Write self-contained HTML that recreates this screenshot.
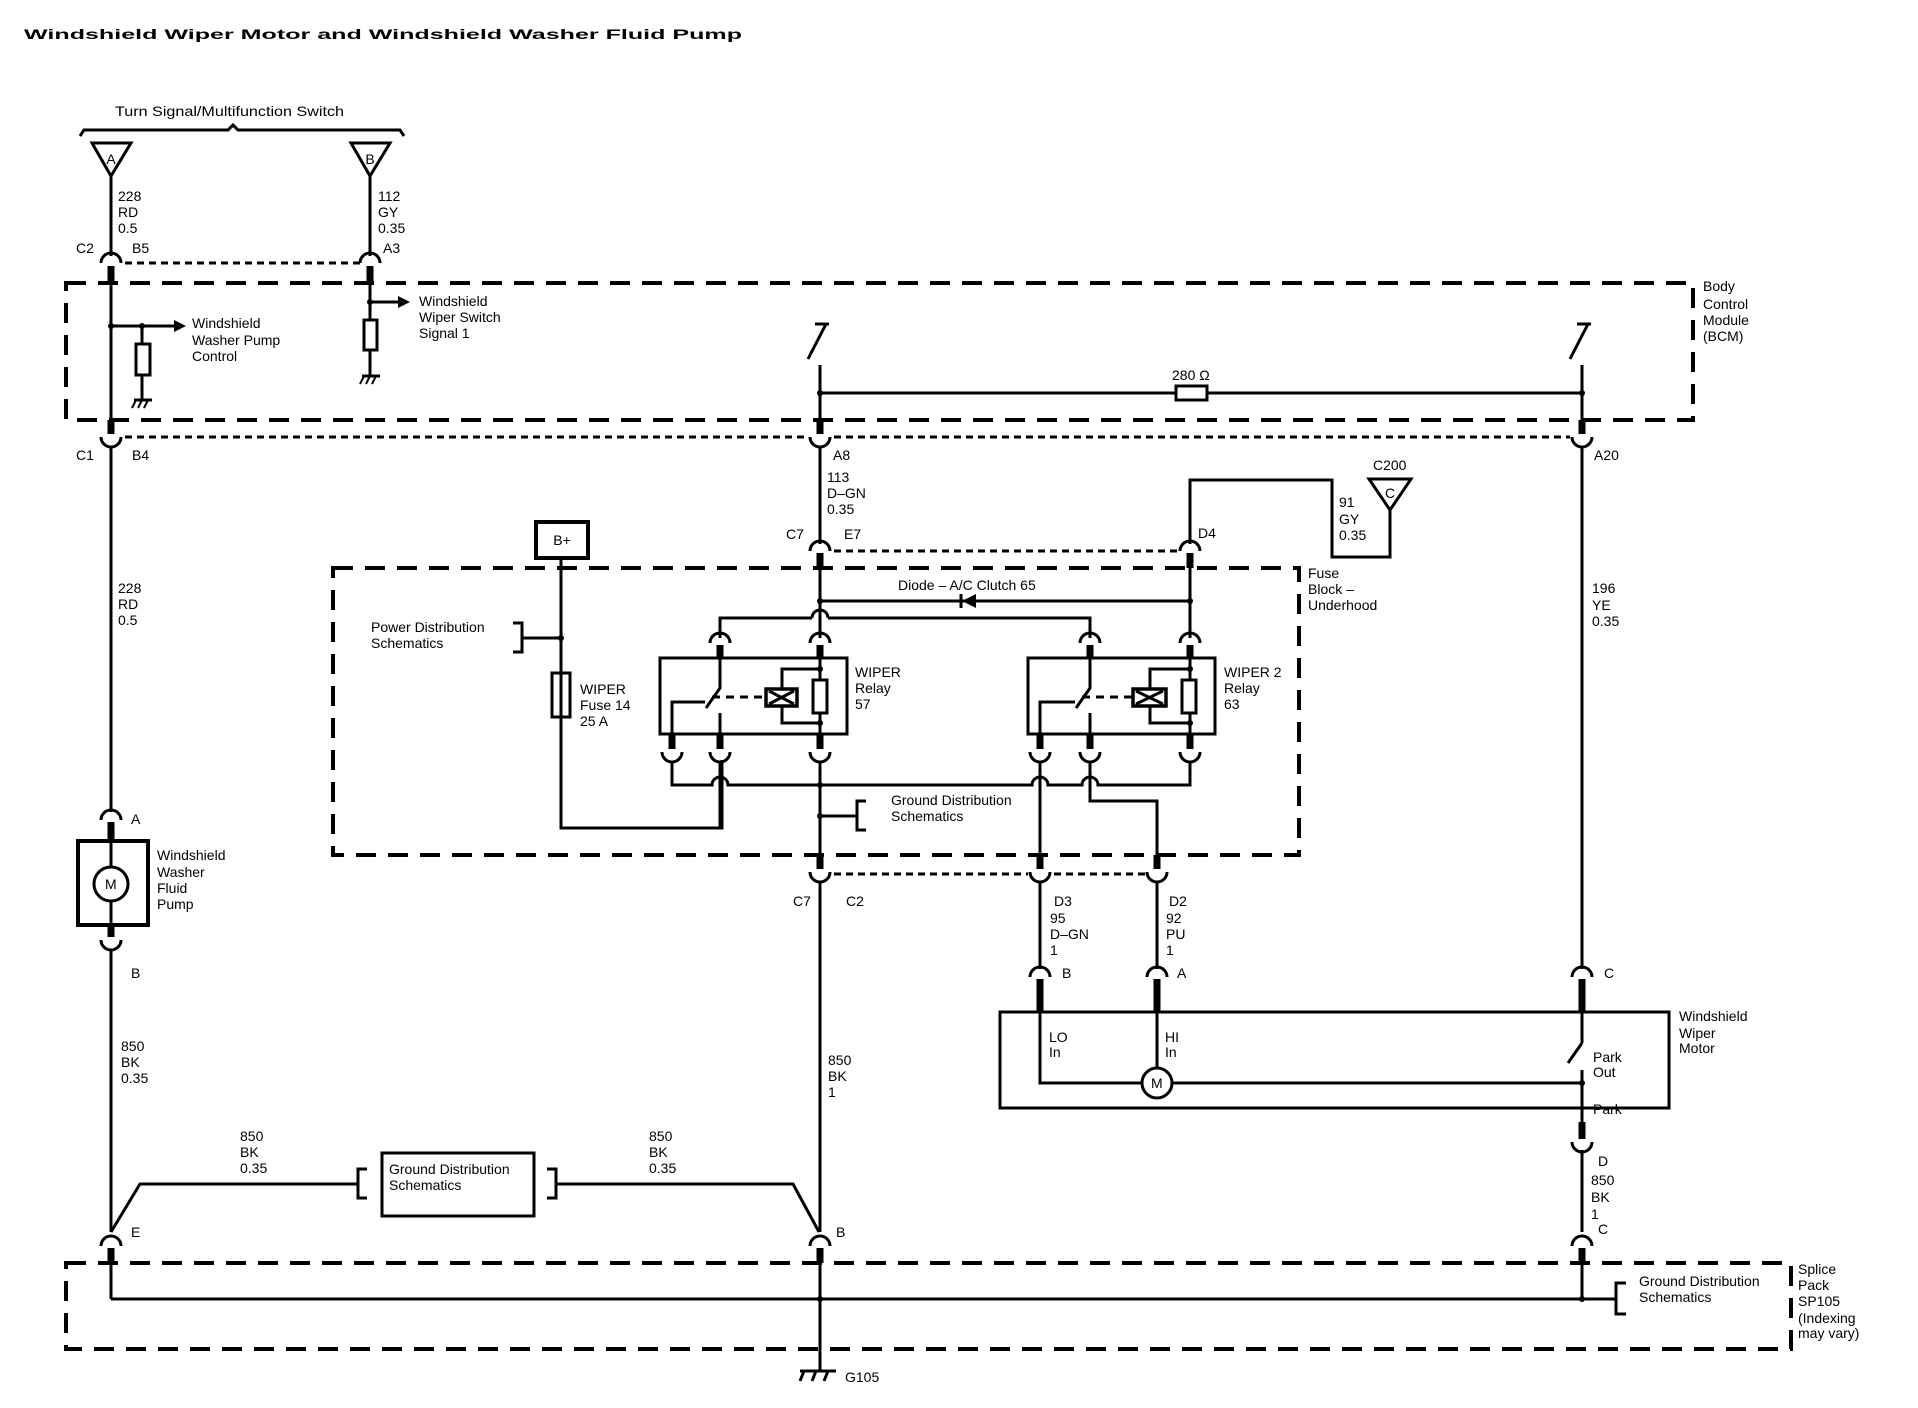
<!DOCTYPE html>
<html><head><meta charset="utf-8"><style>
html,body{margin:0;padding:0;background:#fff}
svg{display:block}
text{font-family:"Liberation Sans",Arial,sans-serif;font-size:14px;fill:#000}
</style></head><body>
<svg width="1918" height="1408" viewBox="0 0 1918 1408" xmlns="http://www.w3.org/2000/svg">
<g fill="none" stroke="#000" stroke-width="3">
<rect x="66" y="283" width="1627" height="137" stroke-width="4" stroke-dasharray="20 12"/>
<rect x="333" y="568" width="966" height="287" stroke-width="4" stroke-dasharray="20 12"/>
<rect x="66" y="1263" width="1725" height="86" stroke-width="4" stroke-dasharray="20 12"/>

<g stroke-dasharray="7 5">
<line x1="125" y1="263" x2="360" y2="263"/>
<line x1="125" y1="437" x2="808" y2="437"/>
<line x1="834" y1="437" x2="1570" y2="437"/>
<line x1="834" y1="551" x2="1178" y2="551"/>
<line x1="834" y1="874" x2="1028" y2="874"/>
<line x1="1054" y1="874" x2="1145" y2="874"/>
</g>

<path d="M80 136 L84 130 H228 L233 125 L238 130 H400 L404 136"/>
<polygon points="92,143 131,143 111,176"/>
<polygon points="351,143 390,143 370,176"/>
<polygon points="1369,479 1411,479 1390,510"/>

<line x1="111" y1="176" x2="111" y2="256"/>
<line x1="370" y1="176" x2="370" y2="256"/>
<line x1="111" y1="280" x2="111" y2="420"/>
<line x1="370" y1="280" x2="370" y2="320"/>
<line x1="111" y1="326" x2="176" y2="326"/>
<line x1="142" y1="326" x2="142" y2="344"/>
<rect x="136" y="344" width="14" height="31" fill="#fff"/>
<line x1="142" y1="375" x2="142" y2="400"/>
<line x1="134" y1="400" x2="152" y2="400"/>
<line x1="370" y1="302" x2="400" y2="302"/>
<rect x="364" y="320" width="13" height="30" fill="#fff"/>
<line x1="370" y1="350" x2="370" y2="376"/>
<line x1="362" y1="376" x2="380" y2="376"/>

<line x1="815" y1="324" x2="829" y2="324"/>
<line x1="826" y1="324" x2="808" y2="359"/>
<line x1="820" y1="365" x2="820" y2="420"/>
<line x1="1577" y1="324" x2="1591" y2="324"/>
<line x1="1588" y1="324" x2="1570" y2="359"/>
<line x1="1582" y1="365" x2="1582" y2="420"/>
<line x1="820" y1="393" x2="1582" y2="393"/>
<rect x="1176" y="386" width="31" height="14" fill="#fff"/>

<line x1="111" y1="447" x2="111" y2="812"/>
<line x1="820" y1="447" x2="820" y2="544"/>
<line x1="820" y1="568" x2="820" y2="611"/>
<path d="M812 618 A8 8 0 0 1 828 618"/>
<line x1="820" y1="611" x2="820" y2="638"/>
<path d="M1190 544 V480 H1332 V557 H1390 V510"/>
<line x1="1190" y1="568" x2="1190" y2="638"/>
<line x1="820" y1="601" x2="1190" y2="601"/>
<line x1="961" y1="594" x2="961" y2="608"/>
<path d="M720 638 V618 H812 M828 618 H1090 V638"/>
<line x1="1582" y1="447" x2="1582" y2="969"/>

<rect x="536" y="522" width="52" height="36" stroke-width="4"/>
<line x1="561" y1="558" x2="561" y2="673"/>
<rect x="552" y="673" width="18" height="44" fill="#fff"/>
<line x1="561" y1="673" x2="561" y2="717"/>
<path d="M561 717 V828 H722 V760"/>
<path d="M513 623 H522 V652 H513 M522 638 H561"/>

<rect x="660" y="658" width="187" height="76"/>
<path d="M720 658 V688 L706 708"/>
<path d="M672 734 V702 H705"/>
<line x1="720" y1="713" x2="720" y2="734"/>
<line x1="712" y1="697" x2="766" y2="697" stroke-dasharray="8 6"/>
<rect x="766" y="689" width="31" height="17" stroke-width="3.5"/>
<path d="M769 691 L794 704 M769 704 L794 691"/>
<path d="M782 689 V669 H820 M782 706 V723 H820"/>
<rect x="813" y="680" width="14" height="33" fill="#fff"/>
<line x1="820" y1="658" x2="820" y2="680"/>
<line x1="820" y1="713" x2="820" y2="734"/>
<rect x="1028" y="658" width="187" height="76"/>
<path d="M1090 658 V688 L1076 708"/>
<path d="M1040 734 V702 H1075"/>
<line x1="1090" y1="713" x2="1090" y2="734"/>
<line x1="1082" y1="697" x2="1133" y2="697" stroke-dasharray="8 6"/>
<rect x="1133" y="689" width="33" height="17" stroke-width="3.5"/>
<path d="M1136 691 L1163 704 M1136 704 L1163 691"/>
<path d="M1150 689 V669 H1190 M1150 706 V723 H1190"/>
<rect x="1182" y="680" width="14" height="33" fill="#fff"/>
<line x1="1190" y1="658" x2="1190" y2="680"/>
<line x1="1190" y1="713" x2="1190" y2="734"/>

<path d="M672 762 V785 H712 A8 8 0 0 1 728 785 H1032 A8 8 0 0 1 1048 785 H1082 A8 8 0 0 1 1098 785 H1190 V762"/>
<line x1="720" y1="762" x2="720" y2="828"/>
<line x1="820" y1="762" x2="820" y2="857"/>
<path d="M866 801 H857 V830 H866 M857 816 H820"/>
<line x1="1040" y1="762" x2="1040" y2="857"/>
<path d="M1090 762 V801 H1157 V857"/>

<line x1="820" y1="882" x2="820" y2="1232"/>
<line x1="1040" y1="882" x2="1040" y2="969"/>
<line x1="1157" y1="882" x2="1157" y2="969"/>

<rect x="1000" y="1012" width="669" height="96"/>
<path d="M1040 1011 V1083 H1142"/>
<line x1="1157" y1="1011" x2="1157" y2="1068"/>
<circle cx="1157" cy="1083" r="15"/>
<line x1="1172" y1="1083" x2="1582" y2="1083"/>
<line x1="1582" y1="990" x2="1582" y2="1043"/>
<line x1="1582" y1="1043" x2="1568" y2="1063"/>
<line x1="1582" y1="1070" x2="1582" y2="1130"/>
<line x1="1582" y1="1150" x2="1582" y2="1232"/>

<rect x="78" y="841" width="70" height="84" stroke-width="4"/>
<line x1="111" y1="841" x2="111" y2="867"/>
<line x1="111" y1="901" x2="111" y2="925"/>
<circle cx="111" cy="884" r="17"/>
<line x1="111" y1="950" x2="111" y2="1232"/>
<path d="M111 1232 L140 1184 H358"/>
<path d="M367 1169 H358 V1198 H367"/>
<rect x="382" y="1153" width="152" height="63"/>
<path d="M547 1169 H556 V1198 H547"/>
<path d="M556 1184 H793 L819 1232"/>

<line x1="111" y1="1262" x2="111" y2="1299"/>
<line x1="111" y1="1299" x2="1616" y2="1299"/>
<line x1="820" y1="1262" x2="820" y2="1371"/>
<line x1="1582" y1="1262" x2="1582" y2="1299"/>
<path d="M1626 1283 H1616 V1314 H1626"/>
<line x1="800" y1="1371" x2="836" y2="1371"/>
<path d="M804 1371 L800 1381 M816 1371 L812 1381 M828 1371 L824 1381"/>

<g stroke-width="3">
<path d="M101 263 A10 10 0 0 1 121 263"/>
<path d="M360 263 A10 10 0 0 1 380 263"/>
<path d="M810 551 A10 10 0 0 1 830 551"/>
<path d="M1180 551 A10 10 0 0 1 1200 551"/>
<path d="M710 643 A10 10 0 0 1 730 643"/>
<path d="M810 643 A10 10 0 0 1 830 643"/>
<path d="M1080 643 A10 10 0 0 1 1100 643"/>
<path d="M1180 643 A10 10 0 0 1 1200 643"/>
<path d="M101 820 A10 10 0 0 1 121 820"/>
<path d="M1030 977 A10 10 0 0 1 1050 977"/>
<path d="M1147 977 A10 10 0 0 1 1167 977"/>
<path d="M1572 977 A10 10 0 0 1 1592 977"/>
<path d="M101 1246 A10 10 0 0 1 121 1246"/>
<path d="M810 1246 A10 10 0 0 1 830 1246"/>
<path d="M1572 1246 A10 10 0 0 1 1592 1246"/>
<path d="M101 437 A10 10 0 0 0 121 437"/>
<path d="M810 437 A10 10 0 0 0 830 437"/>
<path d="M1572 437 A10 10 0 0 0 1592 437"/>
<path d="M662 752 A10 10 0 0 0 682 752"/>
<path d="M710 752 A10 10 0 0 0 730 752"/>
<path d="M810 752 A10 10 0 0 0 830 752"/>
<path d="M1030 752 A10 10 0 0 0 1050 752"/>
<path d="M1080 752 A10 10 0 0 0 1100 752"/>
<path d="M1180 752 A10 10 0 0 0 1200 752"/>
<path d="M810 872 A10 10 0 0 0 830 872"/>
<path d="M1030 872 A10 10 0 0 0 1050 872"/>
<path d="M1147 872 A10 10 0 0 0 1167 872"/>
<path d="M101 940 A10 10 0 0 0 121 940"/>
<path d="M1572 1142 A10 10 0 0 0 1592 1142"/>
</g>
<g stroke-width="7">
<path d="M111 266 V281 M370 266 V281 M111 420 V434 M820 420 V434 M1582 420 V434"/>
<path d="M820 553 V568 M1190 553 V568 M720 645 V658 M820 645 V658 M1090 645 V658 M1190 645 V658"/>
<path d="M672 734 V749 M720 734 V749 M820 734 V749 M1040 734 V749 M1090 734 V749 M1190 734 V749"/>
<path d="M820 855 V869 M1040 855 V869 M1157 855 V869"/>
<path d="M111 822 V841 M111 925 V937 M1040 979 V1011 M1157 979 V1011 M1582 979 V1011 M1582 1122 V1139"/>
<path d="M111 1248 V1263 M820 1248 V1263 M1582 1248 V1263"/>
</g>
</g>

<g fill="#000">
<polygon points="174,320 186,326 174,332"/>
<polygon points="398,296 410,302 398,308"/>
<polygon points="962,601 976,594 976,608"/>
<circle cx="111" cy="326" r="3"/><circle cx="142" cy="326" r="3"/><circle cx="370" cy="302" r="3"/>
<circle cx="820" cy="393" r="3"/><circle cx="1582" cy="393" r="3"/>
<circle cx="820" cy="601" r="3"/><circle cx="1190" cy="601" r="3"/>
<circle cx="561" cy="638" r="3"/>
<circle cx="820" cy="669" r="3"/><circle cx="820" cy="723" r="3"/>
<circle cx="1190" cy="669" r="3"/><circle cx="1190" cy="723" r="3"/>
<circle cx="820" cy="785" r="3"/><circle cx="820" cy="816" r="3"/>
<circle cx="1582" cy="1083" r="3"/>
<circle cx="820" cy="1299" r="3"/><circle cx="1582" cy="1299" r="3"/>
</g>
<g stroke="#000" stroke-width="2" fill="none">
<path d="M136 400 L132 408 M142 400 L138 408 M148 400 L144 408"/>
<path d="M364 376 L360 384 M370 376 L366 384 M376 376 L372 384"/>
</g>

<text x="24" y="39" font-size="23" font-weight="bold" textLength="718" lengthAdjust="spacingAndGlyphs">Windshield Wiper Motor and Windshield Washer Fluid Pump</text>
<text x="115" y="116" textLength="229" lengthAdjust="spacingAndGlyphs">Turn Signal/Multifunction Switch</text>
<text x="111" y="164" text-anchor="middle" font-size="13">A</text>
<text x="370" y="164" text-anchor="middle" font-size="13">B</text>
<text x="1390" y="498" text-anchor="middle" font-size="13">C</text>
<g font-size="14">
<text x="118" y="201">228</text><text x="118" y="217">RD</text><text x="118" y="233">0.5</text>
<text x="378" y="201">112</text><text x="378" y="217">GY</text><text x="378" y="233">0.35</text>
<text x="76" y="253">C2</text><text x="132" y="253">B5</text><text x="383" y="253">A3</text>
<text x="192" y="328">Windshield</text><text x="192" y="345">Washer Pump</text><text x="192" y="361">Control</text>
<text x="419" y="306">Windshield</text><text x="419" y="322">Wiper Switch</text><text x="419" y="338">Signal 1</text>
<text x="1172" y="380">280 Ω</text>
<text x="1703" y="291">Body</text><text x="1703" y="309">Control</text><text x="1703" y="325">Module</text><text x="1703" y="341">(BCM)</text>
<text x="76" y="460">C1</text><text x="132" y="460">B4</text><text x="833" y="460">A8</text><text x="1594" y="460">A20</text>
<text x="827" y="482">113</text><text x="827" y="498">D–GN</text><text x="827" y="514">0.35</text>
<text x="786" y="539">C7</text><text x="844" y="539">E7</text><text x="1198" y="538">D4</text>
<text x="1373" y="470">C200</text>
<text x="1339" y="507">91</text><text x="1339" y="524">GY</text><text x="1339" y="540">0.35</text>
<text x="1308" y="578">Fuse</text><text x="1308" y="594">Block –</text><text x="1308" y="610">Underhood</text>
<text x="562" y="545" text-anchor="middle" font-size="13">B+</text>
<text x="898" y="590">Diode – A/C Clutch 65</text>
<text x="371" y="632">Power Distribution</text><text x="371" y="648">Schematics</text>
<text x="855" y="677">WIPER</text><text x="855" y="693">Relay</text><text x="855" y="709">57</text>
<text x="1224" y="677">WIPER 2</text><text x="1224" y="693">Relay</text><text x="1224" y="709">63</text>
<text x="580" y="694">WIPER</text><text x="580" y="710">Fuse 14</text><text x="580" y="726">25 A</text>
<text x="118" y="593">228</text><text x="118" y="609">RD</text><text x="118" y="625">0.5</text>
<text x="1592" y="593">196</text><text x="1592" y="610">YE</text><text x="1592" y="626">0.35</text>
<text x="891" y="805">Ground Distribution</text><text x="891" y="821">Schematics</text>
<text x="793" y="906">C7</text><text x="846" y="906">C2</text>
<text x="1054" y="906">D3</text><text x="1169" y="906">D2</text>
<text x="1050" y="923">95</text><text x="1050" y="939">D–GN</text><text x="1050" y="955">1</text>
<text x="1166" y="923">92</text><text x="1166" y="939">PU</text><text x="1166" y="955">1</text>
<text x="1062" y="978">B</text><text x="1177" y="978">A</text><text x="1604" y="978">C</text>
<text x="131" y="824">A</text>
<text x="157" y="860">Windshield</text><text x="157" y="877">Washer</text><text x="157" y="893">Fluid</text><text x="157" y="909">Pump</text>
<text x="105" y="889" font-size="12">M</text>
<text x="1151" y="1088" font-size="12">M</text>
<text x="131" y="978">B</text>
<text x="1049" y="1042">LO</text><text x="1049" y="1057">In</text>
<text x="1165" y="1042">HI</text><text x="1165" y="1057">In</text>
<text x="1593" y="1062">Park</text><text x="1593" y="1077">Out</text><text x="1593" y="1114">Park</text>
<text x="1679" y="1021">Windshield</text><text x="1679" y="1038">Wiper</text><text x="1679" y="1053">Motor</text>
<text x="121" y="1051">850</text><text x="121" y="1067">BK</text><text x="121" y="1083">0.35</text>
<text x="828" y="1065">850</text><text x="828" y="1081">BK</text><text x="828" y="1097">1</text>
<text x="1598" y="1166">D</text>
<text x="1591" y="1185">850</text><text x="1591" y="1202">BK</text><text x="1591" y="1219">1</text>
<text x="1598" y="1234">C</text>
<text x="240" y="1141">850</text><text x="240" y="1157">BK</text><text x="240" y="1173">0.35</text>
<text x="649" y="1141">850</text><text x="649" y="1157">BK</text><text x="649" y="1173">0.35</text>
<text x="389" y="1174">Ground Distribution</text><text x="389" y="1190">Schematics</text>
<text x="131" y="1237">E</text><text x="836" y="1237">B</text>
<text x="1639" y="1286">Ground Distribution</text><text x="1639" y="1302">Schematics</text>
<text x="1798" y="1274">Splice</text><text x="1798" y="1290">Pack</text><text x="1798" y="1306">SP105</text><text x="1798" y="1323">(Indexing</text><text x="1798" y="1338">may vary)</text>
<text x="845" y="1382">G105</text>
</g>
</svg>
</body></html>
